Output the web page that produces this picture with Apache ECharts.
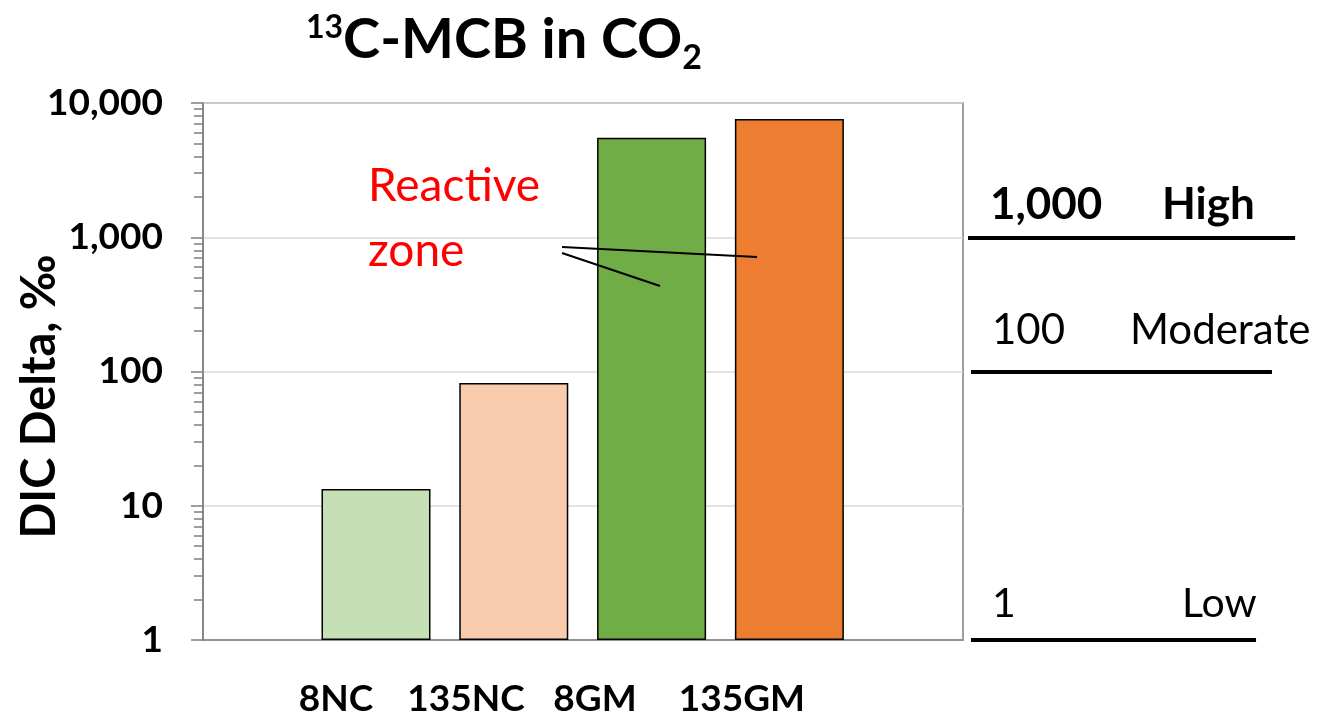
<!DOCTYPE html>
<html>
<head>
<meta charset="utf-8">
<title>13C-MCB in CO2</title>
<script src="https://cdn.jsdelivr.net/npm/echarts@6/dist/echarts.min.js"></script>
<style>
  html, body { margin: 0; padding: 0; background: #fff; }
  #chart { width: 1327px; height: 715px; }
</style>
</head>
<body>
<div id="chart"></div>
<script>
// ---- data ----
const categories = ['8NC', '135NC', '8GM', '135GM'];
const dicDelta = [13.3, 82, 5500, 7600];          // DIC delta, per mil
const barColors = ['#C5E0B4', '#F8CBAD', '#70AD47', '#ED7D31'];
const yTickValues = [1, 10, 100, 1000, 10000];
const yTickLabels = ['1', '10', '100', '1,000', '10,000'];

// reactivity zones shown to the right of the plot
const zoneLevels = [1000, 100, 1];
const zoneValueLabels = ['1,000', '100', '1'];
const zoneNames = ['High', 'Moderate', 'Low'];

// ---- layout ----
const FONT = 'Lato';
const barSlots = categories.map((c, i) => i + 1);     // bar centres on the x value axis
const labelSlots = [0.71, 1.653, 2.589, 3.656];       // category label centres (sit left of the bars)
const minorTicks = [];
for (let d = 1; d < 10000; d *= 10) {
  for (let k = 2; k <= 9; k++) minorTicks.push(k * d);
}
// zone line extents on the 0..100 annotation axis, and label styling
const zoneSpan = [[0.83, 91.2], [1.66, 84.8], [1.66, 80.4]];
const zoneStyle = [
  { size: 44, weight: 'bold', nameGap: 172, dx: 22, dy: 10 },
  { size: 42, weight: 'normal', nameGap: 138, dx: 21, dy: 20 },
  { size: 41, weight: 'normal', nameGap: 190, dx: 21, dy: 16 }
];

const chart = echarts.init(document.getElementById('chart'), null, { renderer: 'canvas' });

const zoneMarkLines = zoneLevels.map((lvl, i) => {
  const s = zoneStyle[i];
  return [
    {
      coord: [zoneSpan[i][0], lvl],
      label: {
        show: true,
        position: 'insideStartTop',
        distance: [s.dx, s.dy],
        formatter: '{v|' + zoneValueLabels[i] + '}{n|' + zoneNames[i] + '}',
        rich: {
          v: { fontFamily: FONT, fontSize: s.size, fontWeight: s.weight, color: '#000', width: s.nameGap },
          n: { fontFamily: FONT, fontSize: s.size, fontWeight: s.weight, color: '#000' }
        }
      }
    },
    { coord: [zoneSpan[i][1], lvl] }
  ];
});

const option = {
  animation: false,
  backgroundColor: '#ffffff',
  title: {
    text: '{sup|13}{main|C-MCB in CO}{sub|2}',
    left: 306,
    top: 12,
    padding: 0,
    textStyle: {
      rich: {
        sup: { fontFamily: FONT, fontSize: 32, fontWeight: 'bold', color: '#000', lineHeight: 32, verticalAlign: 'top' },
        main: { fontFamily: FONT, fontSize: 56, fontWeight: 'bold', color: '#000', lineHeight: 56, verticalAlign: 'top' },
        sub: { fontFamily: FONT, fontSize: 34, fontWeight: 'bold', color: '#000', lineHeight: 63, verticalAlign: 'bottom' }
      }
    }
  },
  grid: [
    { left: 203, right: 364, top: 103, bottom: 75, outerBoundsMode: 'none', containLabel: false, show: true, borderColor: '#7f7f7f', borderWidth: 1.5, backgroundColor: 'transparent' },
    { left: 965, right: 0, top: 103, bottom: 75, outerBoundsMode: 'none', containLabel: false, show: false }
  ],
  xAxis: [
    {
      type: 'value',
      gridIndex: 0,
      min: -0.2554,
      max: 5.26,
      axisLine: { show: true, onZero: false, lineStyle: { color: '#7f7f7f', width: 1.5 } },
      axisTick: { show: false },
      splitLine: { show: false },
      axisLabel: {
        show: true,
        customValues: labelSlots,
        formatter: v => categories[Math.round(v) - 1] || '',
        fontFamily: FONT,
        fontSize: 37,
        fontWeight: 'bold',
        color: '#000',
        margin: 41
      }
    },
    { type: 'value', gridIndex: 1, min: 0, max: 100, show: false }
  ],
  yAxis: [
    {
      type: 'log',
      gridIndex: 0,
      logBase: 10,
      min: 1,
      max: 10000,
      name: 'DIC Delta, ‰',
      nameLocation: 'middle',
      nameGap: 140,
      nameMoveOverlap: false,
      nameTextStyle: { fontFamily: FONT, fontSize: 47, fontWeight: 'bold', color: '#000', padding: [0, 50, 0, 0] },
      axisLine: { show: true, onZero: false, lineStyle: { color: '#7f7f7f', width: 1.5 } },
      axisTick: { show: true, inside: false, length: 12, lineStyle: { color: '#7f7f7f', width: 1.5 } },
      axisLabel: {
        fontFamily: FONT,
        fontSize: 37,
        fontWeight: 'bold',
        color: '#000',
        margin: 40,
        formatter: v => {
          const idx = yTickValues.indexOf(Math.round(v));
          return idx >= 0 ? yTickLabels[idx] : '';
        }
      },
      splitLine: { show: true, lineStyle: { color: '#d9d9d9', width: 1.5 } }
    },
    {
      // minor ticks at 2..9 of each decade
      type: 'log',
      gridIndex: 0,
      logBase: 10,
      min: 1,
      max: 10000,
      position: 'left',
      axisLine: { show: false, onZero: false },
      axisLabel: { show: false },
      splitLine: { show: false },
      axisTick: { show: true, inside: false, length: 9, customValues: minorTicks, lineStyle: { color: '#7f7f7f', width: 1.5 } }
    },
    { type: 'log', gridIndex: 1, logBase: 10, min: 1, max: 10000, show: false }
  ],
  series: [
    {
      type: 'bar',
      xAxisIndex: 0,
      yAxisIndex: 0,
      barWidth: 109,
      data: dicDelta.map((v, i) => ({
        value: [barSlots[i], v],
        itemStyle: { color: barColors[i], borderColor: '#000', borderWidth: 1.5 }
      })),
      silent: true
    },
    {
      type: 'line',
      xAxisIndex: 1,
      yAxisIndex: 2,
      data: [],
      silent: true,
      markLine: {
        silent: true,
        symbol: ['none', 'none'],
        lineStyle: { color: '#000', width: 4, type: 'solid' },
        data: zoneMarkLines
      }
    }
  ],
  graphic: [
    {
      type: 'text',
      left: 368,
      top: 154,
      z: 100,
      style: { text: 'Reactive\nzone', fill: '#ff0000', fontFamily: FONT, fontSize: 46, lineHeight: 65 }
    },
    { type: 'line', z: 100, shape: { x1: 562, y1: 247, x2: 757, y2: 257 }, style: { stroke: '#000', lineWidth: 2 } },
    { type: 'line', z: 100, shape: { x1: 562, y1: 253, x2: 660, y2: 286 }, style: { stroke: '#000', lineWidth: 2 } }
  ]
};

chart.setOption(option);
</script>
</body>
</html>
